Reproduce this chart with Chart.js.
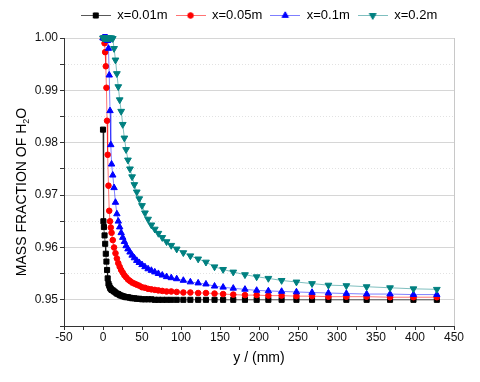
<!DOCTYPE html>
<html>
<head>
<meta charset="utf-8">
<script src="https://cdn.jsdelivr.net/npm/chart.js@4"></script>
<style>
html,body{margin:0;padding:0;background:#fff;}
#wrap{width:480px;height:382px;position:relative;}
</style>
</head>
<body>
<div id="wrap"><canvas id="c" width="480" height="382"></canvas></div>
<script>
// ---- data ----
const yMM = [0,0.5,1.2,2,2.8,3.6,4.4,5.2,6,7,
  8,9,10,11,12.5,14.2,16,17.8,19.6,21.4,
  23.3,25.3,27.4,29.6,32,34.6,37.3,40.2,43.3,46.5,
  50,53.8,57.8,62,66.4,71,76,81.5,87.5,94.5,
  103,112,122,132,143,154,167,182,197,212,
  229,248,268,289,312,338,368,398,428];

const seriesNames = ['x=0.01m','x=0.05m','x=0.1m','x=0.2m'];

const frac001 = [0.9825,0.9650,0.9639,0.9623,0.9607,0.9588,0.9573,0.9557,0.9541,0.9531,
  0.9527,0.9523,0.9521,0.9519,0.9518,0.9516,0.9514,0.9512,0.9511,0.9509,
  0.9508,0.9507,0.9506,0.9505,0.9505,0.9504,0.9503,0.9503,0.9502,0.9502,
  0.9501,0.9501,0.9501,0.9501,0.9500,0.9500,0.9500,0.9500,0.9500,0.9500,
  0.9500,0.9500,0.9500,0.9500,0.9500,0.9500,0.9500,0.9500,0.9500,0.9500,
  0.9500,0.9500,0.9500,0.9500,0.9500,0.9500,0.9500,0.9500,0.9500];

const frac005 = [1.0000,1.0000,1.0000,0.9990,0.9973,0.9946,0.9905,0.9842,0.9777,0.9718,
  0.9670,0.9650,0.9638,0.9628,0.9614,0.9600,0.9589,0.9579,0.9570,0.9563,
  0.9557,0.9552,0.9547,0.9543,0.9539,0.9536,0.9533,0.9531,0.9529,0.9527,
  0.9524,0.9523,0.9521,0.9520,0.9519,0.9518,0.9517,0.9516,0.9516,0.9515,
  0.9514,0.9514,0.9513,0.9513,0.9512,0.9511,0.9510,0.9509,0.9509,0.9508,
  0.9508,0.9507,0.9507,0.9506,0.9506,0.9506,0.9505,0.9505,0.9505];

const frac01 = [1.0000,1.0000,1.0000,1.0000,1.0000,1.0000,1.0000,1.0000,0.9995,0.9980,
  0.9929,0.9861,0.9796,0.9759,0.9738,0.9714,0.9686,0.9664,0.9650,0.9639,
  0.9628,0.9619,0.9611,0.9603,0.9597,0.9591,0.9585,0.9580,0.9575,0.9571,
  0.9567,0.9563,0.9559,0.9556,0.9553,0.9550,0.9547,0.9544,0.9542,0.9540,
  0.9537,0.9534,0.9532,0.9530,0.9526,0.9524,0.9522,0.9520,0.9518,0.9517,
  0.9516,0.9515,0.9514,0.9513,0.9512,0.9511,0.9511,0.9510,0.9510];

const frac02 = [1.0000,1.0000,1.0000,1.0000,1.0000,1.0000,1.0000,1.0000,1.0000,1.0000,
  1.0000,1.0000,1.0000,1.0000,0.9999,0.9980,0.9958,0.9932,0.9907,0.9882,
  0.9860,0.9835,0.9809,0.9787,0.9767,0.9750,0.9735,0.9720,0.9706,0.9693,
  0.9680,0.9666,0.9654,0.9643,0.9635,0.9627,0.9619,0.9611,0.9604,0.9597,
  0.9590,0.9584,0.9578,0.9572,0.9563,0.9558,0.9553,0.9548,0.9544,0.9541,
  0.9537,0.9534,0.9531,0.9528,0.9527,0.9525,0.9523,0.9521,0.9520];

const xTickLabels = [-50,0,50,100,150,200,250,300,350,400,450];
const yTickLabels = [0.95,0.96,0.97,0.98,0.99,1.00];

const xTitle = 'y / (mm)';
const yTitleParts = ['MASS FRACTION OF H','2','O'];

// ---- styles ----
const FONT = '"Liberation Sans", Arial, Helvetica, sans-serif';
const styles = [
  {pt:'rect', r:3.6, rot:0, fill:'#000000', line:'rgba(0,0,0,0.65)'},
  {pt:'circle', r:2.8, rot:0, fill:'#ff0000', line:'rgba(255,0,0,0.55)'},
  {pt:'triangle', r:3.7, rot:0, fill:'#0000ff', line:'rgba(0,0,255,0.5)'},
  {pt:'triangle', r:3.9, rot:180, fill:'#008080', line:'rgba(0,128,128,0.5)'}
];

function drawMarker(ctx, s, x, y) {
  ctx.save();
  ctx.fillStyle = s.fill; ctx.strokeStyle = s.fill; ctx.lineWidth = 1;
  ctx.beginPath();
  if (s.pt === 'rect') {
    const h = s.r * Math.SQRT1_2;
    ctx.rect(x - h, y - h, 2*h, 2*h);
  } else if (s.pt === 'circle') {
    ctx.arc(x, y, s.r, 0, Math.PI*2);
  } else {
    let rad = s.rot * Math.PI / 180;
    ctx.moveTo(x + Math.sin(rad)*s.r, y - Math.cos(rad)*s.r);
    rad += 2*Math.PI/3;
    ctx.lineTo(x + Math.sin(rad)*s.r, y - Math.cos(rad)*s.r);
    rad += 2*Math.PI/3;
    ctx.lineTo(x + Math.sin(rad)*s.r, y - Math.cos(rad)*s.r);
    ctx.closePath();
  }
  ctx.fill(); ctx.stroke();
  ctx.restore();
}

const legendImgs = styles.map(s => {
  const c = document.createElement('canvas');
  c.width = 30; c.height = 13;
  const g = c.getContext('2d');
  g.strokeStyle = s.line; g.lineWidth = 1;
  g.beginPath(); g.moveTo(0, 6.5); g.lineTo(30, 6.5); g.stroke();
  drawMarker(g, s, 15, 6.5);
  return c;
});

const valueSets = [frac001, frac005, frac01, frac02];
const datasets = valueSets.map((vals, i) => ({
  label: seriesNames[i],
  data: yMM.map((x, k) => ({x: x, y: vals[k]})),
  showLine: true,
  borderColor: styles[i].line,
  borderWidth: 1,
  pointStyle: styles[i].pt,
  pointRotation: styles[i].rot,
  pointRadius: styles[i].r,
  pointBackgroundColor: styles[i].fill,
  pointBorderColor: styles[i].fill,
  pointBorderWidth: 1,
  pointHoverRadius: styles[i].r,
  tension: 0,
  clip: false,
  order: 4 - i
}));

const isIn = (v, arr) => arr.some(t => Math.abs(t - v) < 1e-6);

const decorPlugin = {
  id: 'decor',
  beforeLayout(chart) {
    const lg = chart.legend;
    if (lg && !lg._extraPatched) {
      const origFit = lg.fit;
      lg.fit = function () { origFit.call(this); this.height += 6; };
      lg._extraPatched = true;
    }
  },
  beforeDatasetsDraw(chart) {
    const {ctx, chartArea: a} = chart;
    ctx.save();
    ctx.strokeStyle = '#c8c8c8';
    ctx.lineWidth = 1;
    ctx.beginPath();
    ctx.moveTo(Math.round(a.right) + 0.5, a.top);
    ctx.lineTo(Math.round(a.right) + 0.5, a.bottom);
    ctx.stroke();
    ctx.restore();
  },
  afterDraw(chart) {
    const {ctx, chartArea: a} = chart;
    ctx.save();
    const big = '14px ' + FONT, small = '9px ' + FONT;
    ctx.font = big; const w0 = ctx.measureText(yTitleParts[0]).width;
    const w2 = ctx.measureText(yTitleParts[2]).width;
    ctx.font = small; const w1 = ctx.measureText(yTitleParts[1]).width;
    const total = w0 + w1 + w2;
    ctx.translate(26, (a.top + a.bottom) / 2 + 10);
    ctx.rotate(-Math.PI / 2);
    ctx.fillStyle = '#000';
    ctx.textBaseline = 'alphabetic';
    ctx.textAlign = 'left';
    let x = -total / 2;
    ctx.font = big; ctx.fillText(yTitleParts[0], x, 0); x += w0;
    ctx.font = small; ctx.fillText(yTitleParts[1], x, 3); x += w1;
    ctx.font = big; ctx.fillText(yTitleParts[2], x, 0);
    ctx.restore();
  }
};

new Chart(document.getElementById('c'), {
  type: 'scatter',
  data: { datasets },
  plugins: [decorPlugin],
  options: {
    responsive: false,
    animation: false,
    devicePixelRatio: 1,
    layout: { padding: {left: 8, right: 26, top: 1, bottom: 0} },
    plugins: {
      tooltip: { enabled: false },
      legend: {
        position: 'top',
        fullSize: false,
        labels: {
          usePointStyle: true,
          pointStyleWidth: 30,
          boxHeight: 13,
          padding: 8,
          color: '#000',
          font: { family: FONT, size: 13 },
          generateLabels: (chart) => chart.data.datasets.map((ds, i) => ({
            text: ds.label,
            pointStyle: legendImgs[i],
            fillStyle: styles[i].fill,
            strokeStyle: styles[i].fill,
            lineWidth: 0,
            hidden: false,
            datasetIndex: i,
            fontColor: '#000'
          }))
        }
      }
    },
    scales: {
      x: {
        type: 'linear',
        min: -50, max: 450,
        afterFit: (s) => { s.height = 56; },
        ticks: {
          stepSize: 25, autoSkip: false, maxRotation: 0, padding: 0,
          color: '#111', font: { family: FONT, size: 12 },
          callback: (v) => isIn(v, xTickLabels) ? String(Math.round(v)) : ''
        },
        grid: { drawOnChartArea: false, drawTicks: true, tickLength: 4, tickColor: '#333' },
        border: { color: '#333', width: 1 },
        title: { display: true, text: xTitle, color: '#000',
                 font: { family: FONT, size: 14 }, padding: {top: 0, bottom: 15} }
      },
      y: {
        type: 'linear',
        min: 0.945, max: 1.0,
        afterFit: (s) => { s.width = 56; },
        ticks: {
          stepSize: 0.005, autoSkip: false, padding: 2,
          color: '#111', font: { family: FONT, size: 12 },
          callback: (v) => isIn(v, yTickLabels) ? v.toFixed(2) : ''
        },
        grid: {
          drawOnChartArea: true, drawTicks: true, tickLength: 4, tickColor: '#333',
          color: (c) => (c.tick && isIn(c.tick.value, yTickLabels)) ? '#d6d6d6' : '#e2e2e2'
        },
        border: {
          color: '#333', width: 1,
          dash: (c) => (c.tick && !isIn(c.tick.value, yTickLabels) && c.tick.value > 0.9451) ? [1, 2] : []
        },
        title: { display: false }
      }
    }
  }
});
</script>
</body>
</html>
